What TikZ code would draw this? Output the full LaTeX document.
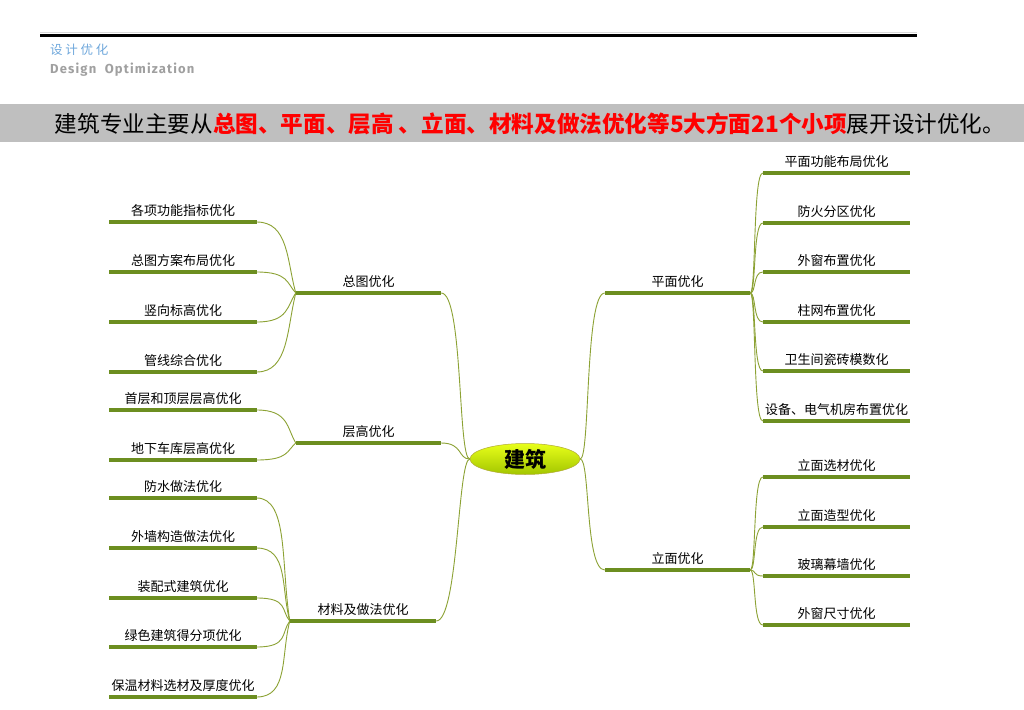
\documentclass[tikz,border=0pt]{standalone}
\usepackage{fontspec}
\setmainfont{Noto Sans CJK SC}
\newfontfamily\latinfont[LetterSpace=9]{Fira Sans}
\newfontfamily\spacedcjk[LetterSpace=22]{Noto Sans CJK SC}
\usetikzlibrary{shapes.geometric,calc}
\definecolor{barcol}{RGB}{108,142,32}
\definecolor{conncol}{RGB}{140,162,52}
\definecolor{bannergray}{RGB}{191,191,191}
\definecolor{titleblue}{RGB}{111,168,220}
\definecolor{subgray}{RGB}{160,160,160}
\definecolor{redtxt}{RGB}{255,0,0}
\tikzset{
  leaf/.style={minimum width=147pt, minimum height=22pt, inner sep=0pt, anchor=south, font=\fontsize{13pt}{15pt}\selectfont},
  grp/.style={minimum width=145pt, minimum height=22pt, inner sep=0pt, anchor=south, font=\fontsize{13pt}{15pt}\selectfont},
  bar/.style={draw=barcol, line width=4pt},
  conn/.style={draw=conncol, line width=0.9pt},
}
\begin{document}
\begin{tikzpicture}[x=1pt,y=-1pt]
\useasboundingbox (0,0) rectangle (1024,709);
\fill[white] (0,0) rectangle (1024,709);
% header
\draw[black!15, line width=1pt] (40,33) -- (917,33);
\draw[black, line width=2.5pt] (40,35.5) -- (917,35.5);
\node[anchor=west, inner sep=0pt, text=titleblue, font=\fontsize{12.5pt}{14pt}\spacedcjk] (t1) at (50,50) {设计优化};
\node[anchor=west, inner sep=0pt, text=subgray, font=\fontsize{13pt}{15pt}\latinfont\bfseries] (t2) at (50,70) {Design\ \ Optimization};
% banner
\fill[bannergray] (0,104) rectangle (1024,142);
\node[inner sep=0pt] (banner) at (530,124) {\resizebox{950pt}{!}{\fontsize{22pt}{26pt}\selectfont 建筑专业主要从{\bfseries\color{redtxt}总图、平面、层高 、立面、材料及做法优化等5大方面21个小项}展开设计优化。}};
% center
\node[ellipse, minimum width=110pt, minimum height=31pt, inner sep=0pt, top color=yellow!60!lime!90!white, bottom color=lime!55!olive, draw=olive!70, line width=0.5pt, font=\fontsize{21pt}{24pt}\selectfont\bfseries] (c) at (525,459) {建筑};
% groups
\node[grp] (g1) at (368.5,293) {总图优化};
\node[grp] (g2) at (368.5,443) {层高优化};
\node[grp, minimum width=146pt] (g3) at (363,621) {材料及做法优化};
\node[grp] (g4) at (677.5,293) {平面优化};
\node[grp] (g5) at (677.5,570) {立面优化};
% left leaves
\node[leaf] (a1) at (183,222) {各项功能指标优化};
\node[leaf] (a2) at (183,272) {总图方案布局优化};
\node[leaf] (a3) at (183,322) {竖向标高优化};
\node[leaf] (a4) at (183,372) {管线综合优化};
\node[leaf] (b1) at (183,410) {首层和顶层层高优化};
\node[leaf] (b2) at (183,460) {地下车库层高优化};
\node[leaf] (m1) at (183,498) {防水做法优化};
\node[leaf] (m2) at (183,548) {外墙构造做法优化};
\node[leaf] (m3) at (183,598) {装配式建筑优化};
\node[leaf] (m4) at (183,647) {绿色建筑得分项优化};
\node[leaf] (m5) at (183,697) {保温材料选材及厚度优化};
% right leaves
\node[leaf] (p1) at (836.5,173) {平面功能布局优化};
\node[leaf] (p2) at (836.5,223) {防火分区优化};
\node[leaf] (p3) at (836.5,272) {外窗布置优化};
\node[leaf] (p4) at (836.5,322) {柱网布置优化};
\node[leaf] (p5) at (836.5,371) {卫生间瓷砖模数化};
\node[leaf] (p6) at (836.5,421) {设备、电气机房布置优化};
\node[leaf] (e1) at (836.5,477) {立面选材优化};
\node[leaf] (e2) at (836.5,527) {立面造型优化};
\node[leaf] (e3) at (836.5,576) {玻璃幕墙优化};
\node[leaf] (e4) at (836.5,625) {外窗尺寸优化};
% connectors (left: brace-like)
\foreach \l/\g in {a1/g1,a2/g1,a3/g1,a4/g1,b1/g2,b2/g2,m1/g3,m2/g3,m3/g3,m4/g3,m5/g3}
  \draw[conn] let \p1=(\l.south east), \p2=(\g.south west) in
    (\p1) .. controls (\x1+32pt,\y1) and (\x2-9pt,{\y2+0.45*(\y1-\y2)}) .. (\p2);
\foreach \l in {p1,p2,p3,p4,p5,p6}
  \draw[conn] (g4.south east) .. controls +(6,0) and +(-10,0) .. (\l.south west);
\foreach \l in {e1,e2,e3,e4}
  \draw[conn] (g5.south east) .. controls +(6,0) and +(-10,0) .. (\l.south west);
\foreach \g in {g1,g2,g3}
  \draw[conn] (c.west) .. controls +(-12,0) and +(22,0) .. (\g.south east);
\foreach \g in {g4,g5}
  \draw[conn] (c.east) .. controls +(10,0) and +(-20,0) .. (\g.south west);
% bars
\foreach \n in {g1,g2,g3,g4,g5,a1,a2,a3,a4,b1,b2,m1,m2,m3,m4,m5,p1,p2,p3,p4,p5,p6,e1,e2,e3,e4}
  \draw[bar] (\n.south west) -- (\n.south east);
\end{tikzpicture}
\end{document}
